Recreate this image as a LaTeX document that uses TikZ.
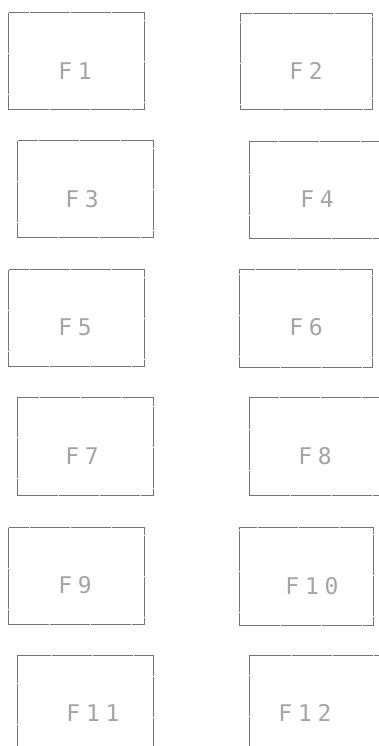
\documentclass[tikz,border=0pt]{standalone}
\usepackage{fontspec}
\newfontfamily\dotfont[LetterSpace=25]{DejaVu Sans Mono}
\definecolor{boxline}{HTML}{747474}
\definecolor{labelgray}{HTML}{A4A4A4}
\begin{document}
\begin{tikzpicture}[x=1pt,y=-1pt,
  fbox/.style={draw=boxline,line width=1.3pt,dash pattern=on 20pt off 0.5pt,inner sep=0pt,anchor=north west},
  flabel/.style={text=labelgray,font=\dotfont\fontsize{23}{23}\selectfont,inner sep=0pt}]
\useasboundingbox (0,0) rectangle (379,746);
\clip (0,0) rectangle (379,746);
% boxes: left column (alternating x), right column
\node[fbox,minimum width=136pt,minimum height=97pt] (b1)  at (8,12)   {};
\node[fbox,minimum width=132pt,minimum height=96pt] (b2)  at (240,13) {};
\node[fbox,minimum width=136pt,minimum height=97pt] (b3)  at (17,140) {};
\node[fbox,minimum width=140pt,minimum height=97pt] (b4)  at (249,141) {};
\node[fbox,minimum width=136pt,minimum height=97pt] (b5)  at (8,269)  {};
\node[fbox,minimum width=133pt,minimum height=98pt] (b6)  at (239,269) {};
\node[fbox,minimum width=136pt,minimum height=98pt] (b7)  at (17,397) {};
\node[fbox,minimum width=140pt,minimum height=98pt] (b8)  at (249,397) {};
\node[fbox,minimum width=136pt,minimum height=97pt] (b9)  at (8,527)  {};
\node[fbox,minimum width=134pt,minimum height=98pt] (b10) at (239,527) {};
\node[fbox,minimum width=136pt,minimum height=110pt] (b11) at (17,655) {};
\node[fbox,minimum width=140pt,minimum height=110pt] (b12) at (249,655) {};
% labels
\node[flabel] (l1)  at (75,71)   {F1};
\node[flabel] (l2)  at (306,71)  {F2};
\node[flabel] (l3)  at (82,199)  {F3};
\node[flabel] (l4)  at (317,199) {F4};
\node[flabel] (l5)  at (75,327)  {F5};
\node[flabel] (l6)  at (306,327) {F6};
\node[flabel] (l7)  at (82,456)  {F7};
\node[flabel] (l8)  at (315,456) {F8};
\node[flabel] (l9)  at (75,585)  {F9};
\node[flabel] (l10) at (312,586) {F10};
\node[flabel] (l11) at (93,713)  {F11};
\node[flabel] (l12) at (305,713) {F12};
\end{tikzpicture}
\end{document}
